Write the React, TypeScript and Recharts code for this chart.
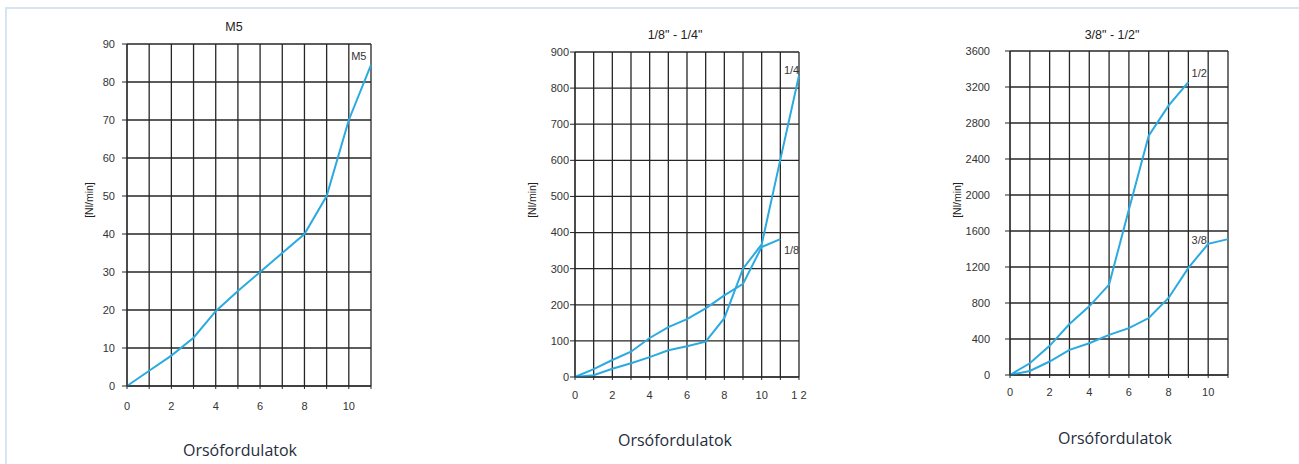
import { LineChart, Line, XAxis, YAxis, CartesianGrid, ReferenceDot } from "recharts";

// spindle turns (x) for each panel
const turns11 = [0, 1, 2, 3, 4, 5, 6, 7, 8, 9, 10, 11];
const turns12 = [0, 1, 2, 3, 4, 5, 6, 7, 8, 9, 10, 11, 12];

// flow values [Nl/min]
const flowM5 = [0, 4, 8, 12.7, 19.7, 25, 30, 35, 40, 50, 70, 84.5];
const flow18 = [0, 22, 47, 70, 108, 138, 160, 190, 226, 258, 360, 382];
const flow14 = [0, 5, 23, 38, 55, 74, 85, 98, 163, 300, 367, 602, 835];
const flow38 = [0, 45, 150, 280, 353, 446, 521, 633, 856, 1190, 1458, 1510];
const flow12 = [0, 130, 324, 566, 763, 1005, 1840, 2659, 2993, 3255];

const ticksM5 = [0, 10, 20, 30, 40, 50, 60, 70, 80, 90];
const ticks14 = [0, 100, 200, 300, 400, 500, 600, 700, 800, 900];
const ticks12 = [0, 400, 800, 1200, 1600, 2000, 2400, 2800, 3200, 3600];

const BLUE = "#2aaae0";
const GRID = "#262626";
const TICK_FONT = "'Liberation Sans Narrow', 'Liberation Sans', Arial, sans-serif";

type Series = { key: string; values: number[] };
type Note = { text: string; x: number; y: number };

function Panel(props: {
  left: number;
  width: number;
  margin: { top: number; right: number; bottom: number; left: number };
  yWidth: number;
  turns: number[];
  series: Series[];
  yTicks: number[];
  yTickMargin: number;
  xTickMargin: number;
  xLabel?: (v: number) => string;
  notes: Note[];
}) {
  const { turns, series } = props;
  const data = turns.map((t, i) => {
    const row: Record<string, number | null> = { t };
    series.forEach((s) => {
      row[s.key] = i < s.values.length ? s.values[i] : null;
    });
    return row;
  });
  const xMax = turns[turns.length - 1];
  const yMax = props.yTicks[props.yTicks.length - 1];
  const tickStyle = { fontSize: 11, fill: "#333", fontFamily: TICK_FONT };

  return (
    <div style={{ position: "absolute", left: props.left, top: 0 }}>
      <LineChart width={props.width} height={464} data={data} margin={props.margin}>
        <CartesianGrid stroke={GRID} strokeWidth={1.3} syncWithTicks />
        <XAxis
          type="number"
          dataKey="t"
          domain={[0, xMax]}
          ticks={turns}
          interval={0}
          height={30}
          tickSize={3}
          tickMargin={props.xTickMargin}
          stroke={GRID}
          tick={tickStyle}
          tickFormatter={(v: number) =>
            v % 2 === 0 ? (props.xLabel ? props.xLabel(v) : String(v)) : ""
          }
        />
        <YAxis
          type="number"
          domain={[0, yMax]}
          ticks={props.yTicks}
          interval={0}
          width={props.yWidth}
          tickSize={5}
          tickMargin={props.yTickMargin}
          stroke={GRID}
          tick={tickStyle}
        />
        {series.map((s) => (
          <Line
            key={s.key}
            type="linear"
            dataKey={s.key}
            stroke={BLUE}
            strokeWidth={2}
            dot={false}
            activeDot={false}
            connectNulls={false}
            isAnimationActive={false}
          />
        ))}
        {props.notes.map((n) => (
          <ReferenceDot
            key={n.text}
            x={n.x}
            y={n.y}
            r={0}
            stroke="none"
            ifOverflow="visible"
            label={{ value: n.text, position: "center", fontSize: 11, fill: "#333", fontFamily: TICK_FONT }}
          />
        ))}
      </LineChart>
    </div>
  );
}

const textBase: React.CSSProperties = {
  position: "absolute",
  whiteSpace: "nowrap",
  transform: "translate(-50%, -50%)",
  lineHeight: 1,
};

function Title({ x, y, text }: { x: number; y: number; text: string }) {
  return (
    <div style={{ ...textBase, left: x, top: y, fontSize: 12.5, color: "#222", fontFamily: "'Liberation Sans', Arial, sans-serif" }}>
      {text}
    </div>
  );
}

function Caption({ x, y }: { x: number; y: number }) {
  return (
    <div style={{ ...textBase, left: x, top: y, fontSize: 16, color: "#1f2d3d", fontFamily: "'Open Sans', sans-serif" }}>
      Orsófordulatok
    </div>
  );
}

function UnitLabel({ x, y }: { x: number; y: number }) {
  return (
    <div
      style={{
        ...textBase,
        left: x,
        top: y,
        transform: "translate(-50%, -50%) rotate(-90deg)",
        fontSize: 10.5,
        color: "#222",
        fontFamily: TICK_FONT,
      }}
    >
      [Nl/min]
    </div>
  );
}

export default function App() {
  return (
    <div
      style={{
        position: "absolute",
        left: 0,
        top: 0,
        width: 1299,
        height: 464,
        background: "#fff",
        overflow: "hidden",
      }}
    >
      <div
        style={{
          position: "absolute",
          left: 5,
          top: 7,
          width: 1300,
          height: 470,
          borderTop: "2px solid #d8e5f1",
          borderLeft: "2px solid #d8e5f1",
        }}
      />

      <Panel
        left={60}
        width={321}
        margin={{ top: 44, right: 10, bottom: 48, left: 27 }}
        yWidth={40}
        turns={turns11}
        series={[{ key: "m5", values: flowM5 }]}
        yTicks={ticksM5}
        yTickMargin={7}
        xTickMargin={13}
        notes={[{ text: "M5", x: 10.45, y: 86.7 }]}
      />
      <Panel
        left={500}
        width={309}
        margin={{ top: 52, right: 10, bottom: 57, left: 35 }}
        yWidth={40}
        turns={turns12}
        series={[
          { key: "q18", values: flow18 },
          { key: "q14", values: flow14 },
        ]}
        yTicks={ticks14}
        yTickMargin={1}
        xTickMargin={11}
        xLabel={(v) => (v === 12 ? "1 2" : String(v))}
        notes={[
          { text: "1/4", x: 11.6, y: 850 },
          { text: "1/8", x: 11.6, y: 352 },
        ]}
      />
      <Panel
        left={930}
        width={308}
        margin={{ top: 51, right: 10, bottom: 59, left: 30 }}
        yWidth={50}
        turns={turns11}
        series={[
          { key: "q38", values: flow38 },
          { key: "q12", values: flow12 },
        ]}
        yTicks={ticks12}
        yTickMargin={15}
        xTickMargin={10}
        notes={[
          { text: "1/2", x: 9.55, y: 3355 },
          { text: "3/8", x: 9.55, y: 1500 },
        ]}
      />

      <Title x={234} y={27} text="M5" />
      <Title x={675} y={35} text={'1/8" - 1/4"'} />
      <Title x={1112} y={35} text={'3/8" - 1/2"'} />

      <UnitLabel x={89} y={200} />
      <UnitLabel x={532} y={200} />
      <UnitLabel x={957} y={200} />

      <Caption x={240} y={450} />
      <Caption x={675} y={440} />
      <Caption x={1115} y={438} />
    </div>
  );
}
